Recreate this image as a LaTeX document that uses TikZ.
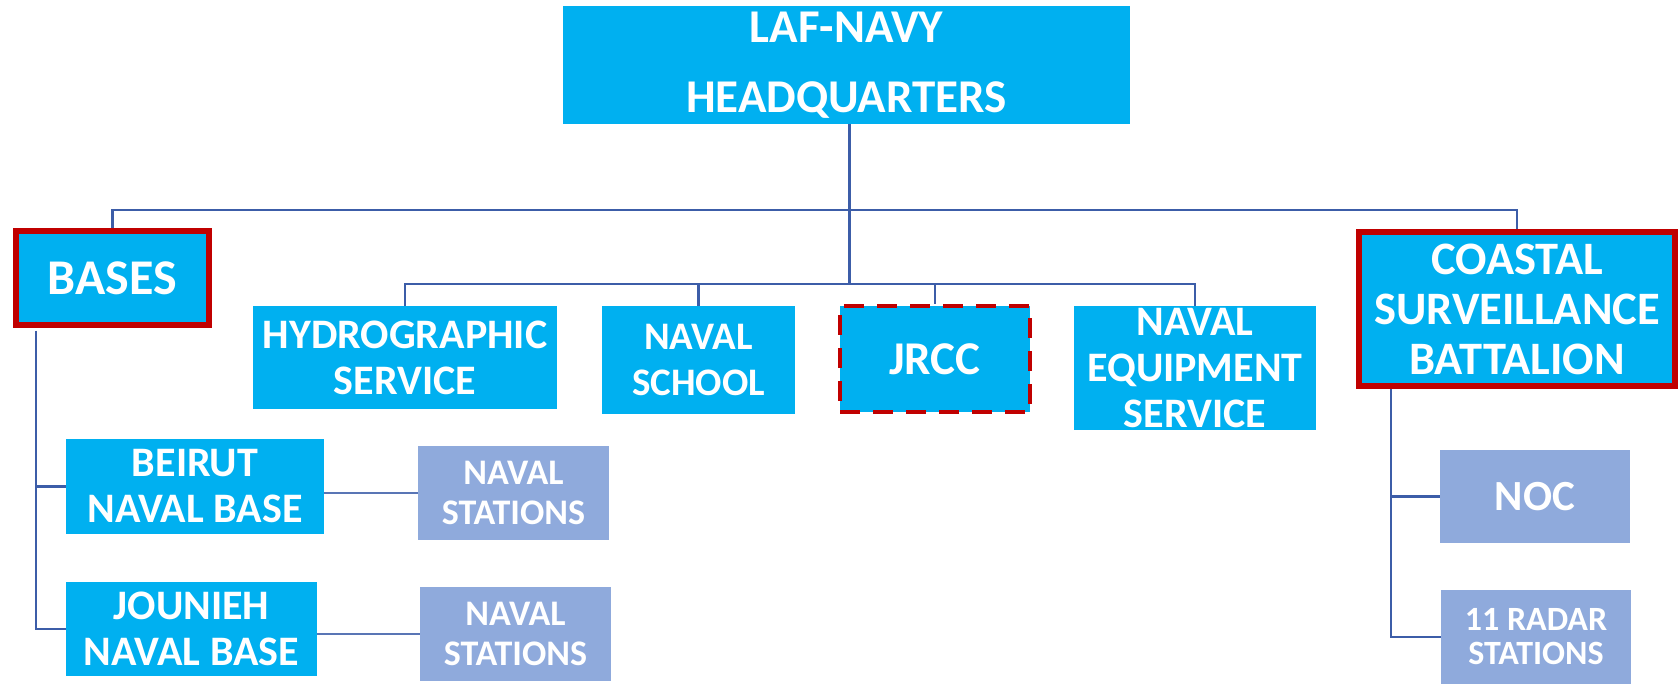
\documentclass[tikz,border=0pt]{standalone}
\usepackage{fontspec}
\setmainfont{Carlito}
\definecolor{boxblue}{HTML}{00B0F0}
\definecolor{boxgrey}{HTML}{8FAADC}
\definecolor{redline}{HTML}{C00000}
\definecolor{connblue}{HTML}{3C5DA8}
\begin{document}
\begin{tikzpicture}[x=1pt,y=-1pt,
  box/.style={fill=boxblue,draw=none,inner sep=0pt,align=center,text=white},
  gbox/.style={fill=boxgrey,draw=none,inner sep=0pt,align=center,text=white},
  fs/.style 2 args={font={\bfseries\fontsize{#1}{#2}\selectfont}},
  redbox/.style={draw=redline,line width=6pt},
  dashbox/.style={draw=redline,line width=4pt,dash pattern=on 20pt off 13pt},
  conn/.style={draw=connblue,line width=2.2pt},
  thinconn/.style={draw=connblue!85,line width=1.6pt}]
\useasboundingbox (0,0) rectangle (1680,684);
\fill[white] (0,0) rectangle (1680,684);

% nodes
\node[box,fs={47}{70},minimum width=567pt,minimum height=118pt] (hq) at (846.5,65)
  {LAF-NAVY\\HEADQUARTERS};
\node[box,redbox,fs={50}{56},minimum width=193pt,minimum height=94pt] (bases) at (112.5,278)
  {BASES};
\node[box,fs={42}{46},minimum width=304pt,minimum height=103pt] (hydro) at (405,357.5)
  {HYDROGRAPHIC\\SERVICE};
\node[box,fs={39}{46},minimum width=193pt,minimum height=108pt] (school) at (698.5,360)
  {NAVAL\\SCHOOL};
\node[box,dashbox,fs={47}{50},minimum width=190pt,minimum height=106pt] (jrcc) at (935,359)
  {JRCC};
\node[box,fs={42}{46},minimum width=242pt,minimum height=124pt] (equip) at (1195,368)
  {NAVAL\\EQUIPMENT\\SERVICE};
\node[box,redbox,fs={46.5}{50},minimum width=316pt,minimum height=154pt] (coastal) at (1517,309)
  {COASTAL\\SURVEILLANCE\\BATTALION};
\node[box,fs={42}{46},minimum width=258pt,minimum height=95pt] (beirut) at (195,486.5)
  {BEIRUT\\NAVAL BASE};
\node[gbox,fs={36}{40},minimum width=191pt,minimum height=94pt] (nsa) at (513.5,493)
  {NAVAL\\STATIONS};
\node[box,fs={42}{46},minimum width=251pt,minimum height=94pt] (jounieh) at (191.5,629)
  {JOUNIEH\\NAVAL BASE};
\node[gbox,fs={36}{40},minimum width=191pt,minimum height=94pt] (nsb) at (515.5,634)
  {NAVAL\\STATIONS};
\node[gbox,fs={43}{48},minimum width=190pt,minimum height=93pt] (noc) at (1535,496.5)
  {NOC};
\node[gbox,fs={34}{34},minimum width=190pt,minimum height=94pt] (radar) at (1536,637)
  {11 RADAR\\STATIONS};

% bus coordinates
\coordinate (busa) at (849,210);
\coordinate (busb) at (849,284);
\coordinate (bspine) at (36,331);
\coordinate (cspine) at (1391,389);

% connectors
\draw[conn,line width=3pt] (hq.south -| busa) -- (busb);
\draw[conn] (bases.north) |- (busa) -| (coastal.north);
\draw[conn] (hydro.north) |- (busb) -| (equip.north);
\draw[conn] (school.north) -- (school.north |- busb);
\draw[conn] (jrcc.north) -- (jrcc.north |- busb);
\draw[conn] (bspine) |- (beirut.west);
\draw[conn] (bspine) |- (jounieh.west);
\draw[thinconn] (nsa.west) -- (nsa.west -| beirut.east);
\draw[thinconn] (nsb.west) -- (nsb.west -| jounieh.east);
\draw[conn] (cspine) |- (noc.west);
\draw[conn] (cspine) |- (radar.west);
\end{tikzpicture}
\end{document}
